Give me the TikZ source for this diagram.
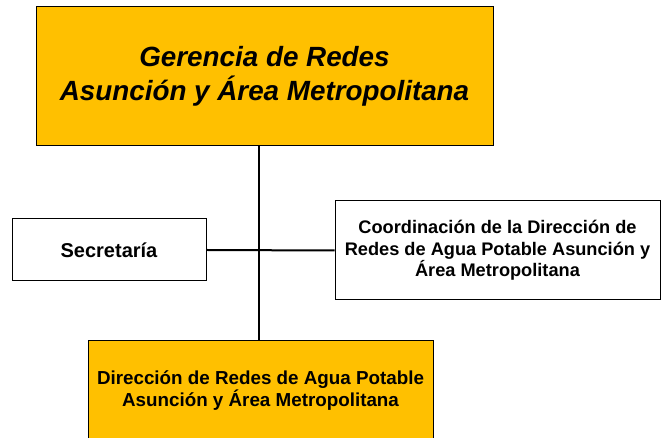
\documentclass[tikz,border=0pt]{standalone}
\usepackage{fontspec}
\setmainfont{Liberation Sans}
\definecolor{gold}{HTML}{FFC000}
\tikzset{
  box/.style={draw=black, line width=1pt, inner sep=0pt, align=center, font=\bfseries\fontsize{18.2}{21.5}\selectfont},
  goldbox/.style={box, fill=gold},
  link/.style={draw=black, line width=2pt}
}
\begin{document}
\begin{tikzpicture}[x=1pt,y=1pt]
\useasboundingbox (0,0) rectangle (668,438);
\node[goldbox, minimum width=457pt, minimum height=139pt, font=\bfseries\itshape\fontsize{27.8}{34}\selectfont] (top) at (264.5,361.5) {Gerencia de Redes\\Asunción y Área Metropolitana};
\node[box, minimum width=194pt, minimum height=62pt, font=\bfseries\fontsize{20}{21.5}\selectfont] (sec) at (109,188) {Secretaría};
\node[box, minimum width=325pt, minimum height=99pt] (coord) at (497.5,187.5) {Coordinación de la Dirección de\\Redes de Agua Potable Asunción y\\Área Metropolitana};
\node[goldbox, minimum width=345pt, minimum height=99pt, font=\bfseries\fontsize{18.8}{21.5}\selectfont] (bot) at (260.5,47.5) {Dirección de Redes de Agua Potable\\Asunción y Área Metropolitana};
\coordinate (j) at (259,188);
\draw[link] (top.south -| j) -- (bot.north -| j);
\draw[link] (sec.east) -- (coord.west);
\end{tikzpicture}
\end{document}
